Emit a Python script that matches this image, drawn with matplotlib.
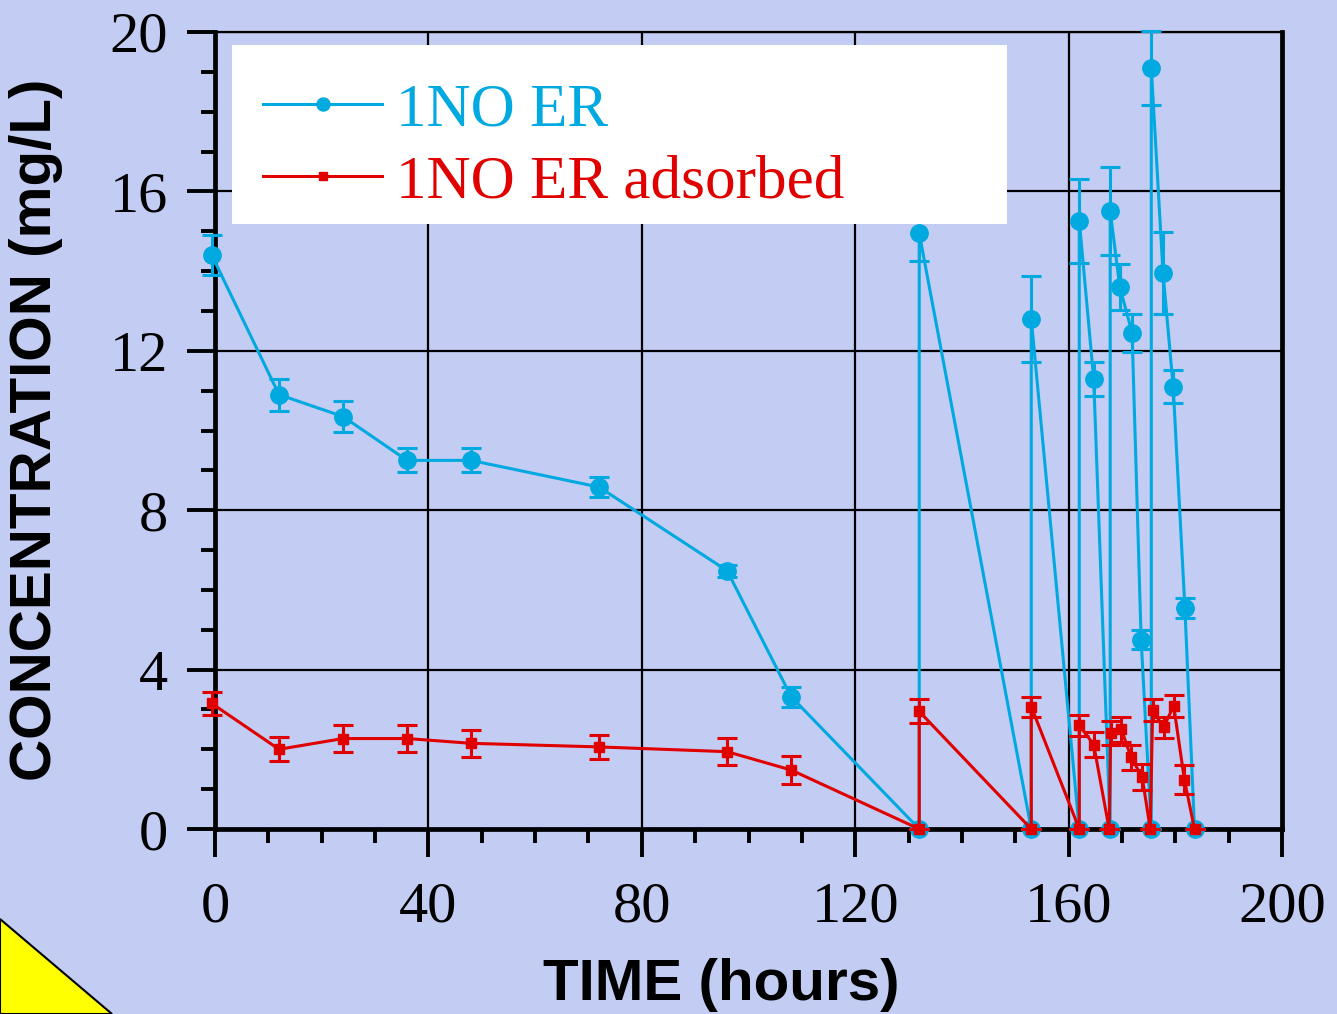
import matplotlib
matplotlib.use("Agg")
import matplotlib.pyplot as plt
from matplotlib.patches import Polygon, Rectangle
from matplotlib.ticker import MultipleLocator

# ---- data ----
time_er = [-0.6, 12, 24, 36, 48, 72, 96, 108, 132, 132, 153, 153, 162, 162, 164.7,
           167.8, 167.8, 169.6, 171.9, 173.6, 175.5, 175.5, 177.7, 179.6, 181.8, 183.6]
conc_er = [14.4, 10.9, 10.35, 9.25, 9.25, 8.58, 6.48, 3.32, 0.0, 14.95, 0.0, 12.8,
           0.0, 15.26, 11.3, 0.0, 15.5, 13.6, 12.45, 4.75, 0.0, 19.1, 13.95, 11.1, 5.55, 0.0]
err_er = [0.5, 0.4, 0.38, 0.3, 0.3, 0.25, 0.15, 0.25, 0.0, 0.7, 0.0, 1.08,
          0.0, 1.05, 0.43, 0.0, 1.1, 0.58, 0.48, 0.24, 0.0, 0.93, 1.03, 0.42, 0.25, 0.0]

time_ads = [-0.6, 12, 24, 36, 48, 72, 96, 108, 132, 132, 153, 153, 162, 162, 164.7,
            167.6, 167.9, 169.9, 171.7, 173.8, 175.3, 175.75, 177.8, 179.7, 181.7, 183.6]
conc_ads = [3.15, 2.0, 2.27, 2.27, 2.15, 2.06, 1.94, 1.48, 0.0, 2.95, 0.0, 3.07,
            0.0, 2.6, 2.12, 0.0, 2.41, 2.5, 1.8, 1.3, 0.0, 2.98, 2.55, 3.09, 1.24, 0.0]
err_ads = [0.28, 0.3, 0.35, 0.35, 0.34, 0.31, 0.34, 0.34, 0.0, 0.3, 0.0, 0.25,
           0.0, 0.27, 0.32, 0.0, 0.29, 0.32, 0.32, 0.33, 0.0, 0.27, 0.27, 0.27, 0.36, 0.0]

x_ticks = [0, 40, 80, 120, 160, 200]
y_ticks = [0, 4, 8, 12, 16, 20]

BLUE = "#00a9e0"
RED = "#e00000"
BG = "#c3ccf3"

W, H = 1337, 1014
fig = plt.figure(figsize=(W / 100, H / 100), dpi=100)
fig.patch.set_facecolor(BG)
ax = fig.add_axes([215 / W, 1 - 829 / H, (1282 - 215) / W, (829 - 32) / H])
ax.set_facecolor(BG)

# yellow corner triangle
tri = Polygon([[0, 1 - 919 / H], [112 / W, 0], [0, 0]], closed=True,
              transform=fig.transFigure, facecolor="#ffff00", edgecolor="black",
              linewidth=1.5, zorder=0)
fig.patches.append(tri)

ax.set_xlim(0, 200)
ax.set_ylim(0, 20)
ax.set_xticks(x_ticks)
ax.set_yticks(y_ticks)
ax.xaxis.set_minor_locator(MultipleLocator(10))
ax.yaxis.set_minor_locator(MultipleLocator(1))
ax.grid(True, which="major", color="black", linewidth=1.6)
ax.set_axisbelow(True)

for side in ["left", "bottom", "right"]:
    ax.spines[side].set_linewidth(3.4)
ax.spines["top"].set_linewidth(1.6)

ax.tick_params(which="major", direction="out", length=20, width=2.8,
               labelsize=42, pad=18)
ax.tick_params(axis="y", which="major", pad=14)
ax.tick_params(which="minor", direction="out", length=10, width=2.8)
for lab in ax.get_xticklabels() + ax.get_yticklabels():
    lab.set_fontfamily("Liberation Serif")

ax.errorbar(time_er, conc_er, yerr=err_er, color=BLUE, linewidth=2.2,
            marker="o", markersize=12.5, capsize=7, capthick=2.2, elinewidth=2.2,
            label="1NO ER", clip_on=False, zorder=3)
ax.errorbar(time_ads, conc_ads, yerr=err_ads, color=RED, linewidth=2.2,
            marker="s", markersize=7.5, capsize=7, capthick=2.2, elinewidth=2.2,
            label="1NO ER adsorbed", clip_on=False, zorder=4)

# legend frame (white box)
box = Rectangle(((232 - 215) / 1067, (829 - 224) / 797), (1007 - 232) / 1067,
                (224 - 45) / 797, transform=ax.transAxes, facecolor="white",
                edgecolor="none", zorder=5)
ax.add_patch(box)

handles, labels = ax.get_legend_handles_labels()
handles = [h[0] for h in handles]
leg = ax.legend(handles, labels, loc="upper left",
                bbox_to_anchor=((263 - 215) / 1067, (829 - 83) / 797),
                prop={"family": "Liberation Serif", "size": 44},
                frameon=False, handlelength=1.95, handletextpad=0.22,
                borderpad=0.0, labelspacing=0.26, borderaxespad=0.0,
                markerscale=0.75)
leg.set_zorder(6)
for t, c in zip(leg.get_texts(), [BLUE, RED]):
    t.set_color(c)

fig.text(36 / W, 1 - 430 / H, "CONCENTRATION (mg/L)", rotation=90,
         ha="center", va="center", fontsize=42, fontweight="bold",
         family="Liberation Sans")
fig.text(721 / W, 1 - 985 / H, "TIME (hours)", ha="center", va="center",
         fontsize=42, fontweight="bold", family="Liberation Sans")

fig.savefig("out.png", dpi=100, facecolor=BG)
